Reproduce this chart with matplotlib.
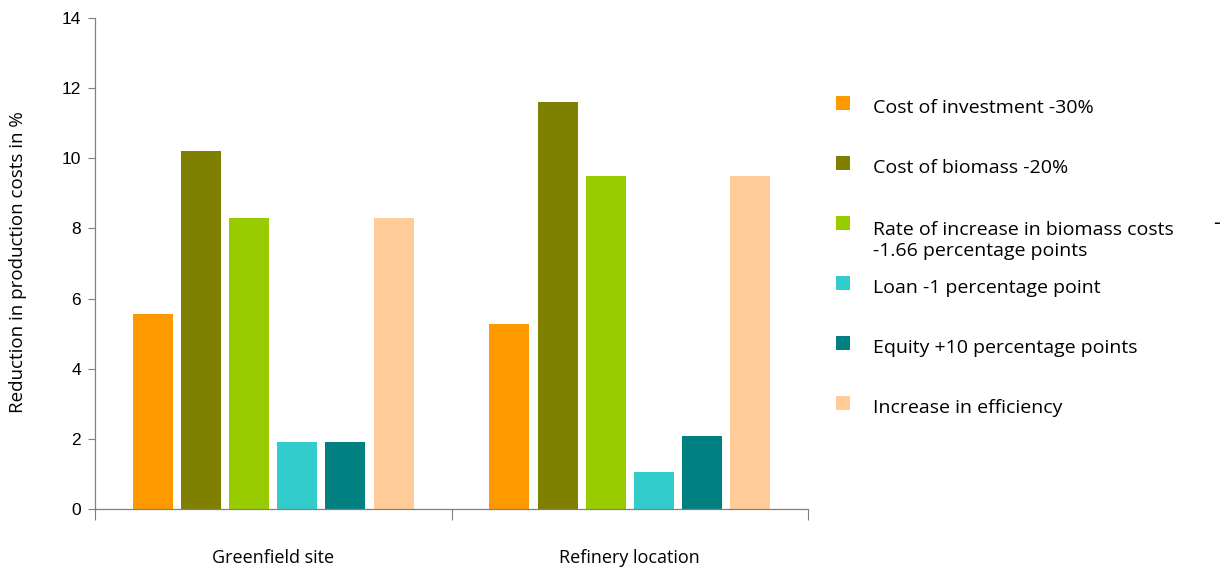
import matplotlib
matplotlib.use("Agg")
import matplotlib.pyplot as plt
import numpy as np
from matplotlib.patches import Rectangle

# ── Data ──────────────────────────────────────────────────────────────────
sites = ["Greenfield site", "Refinery location"]
measures = [
    "Cost of investment -30%",
    "Cost of biomass -20%",
    "Rate of increase in biomass costs\n-1.66 percentage points",
    "Loan -1 percentage point",
    "Equity +10 percentage points",
    "Increase in efficiency",
]
greenfield = [5.56, 10.2, 8.3, 1.91, 1.91, 8.3]
refinery = [5.28, 11.6, 9.5, 1.06, 2.08, 9.5]
colors = ["#FF9900", "#808000", "#99CC00", "#33CCCC", "#008080", "#FFCC99"]

TEXT_FONT = ["Open Sans", "DejaVu Sans"]
NUM_FONT = ["Liberation Sans", "DejaVu Sans"]
SPINE = "#808080"
W, H = 1220, 567

fig = plt.figure(figsize=(W / 100, H / 100), dpi=100)
ax = fig.add_axes([95 / W, 1 - 509 / H, 713 / W, 491 / H])

values = np.array([greenfield, refinery])
x = np.arange(len(sites))
step, width = 0.135, 0.112
for i, (label, color) in enumerate(zip(measures, colors)):
    ax.bar(x + (i - 2.5) * step, values[:, i], width=width, color=color,
           label=label, zorder=2)

ax.set_xlim(-0.5, 1.5)
ax.set_ylim(0, 14)
ax.set_yticks(np.arange(0, 15, 2))
ax.tick_params(axis="y", length=5, width=0.8, color=SPINE, pad=5,
               labelsize=12.5)
for t in ax.get_yticklabels():
    t.set_family(NUM_FONT)

# boundary ticks between categories, labels centred under each group
ax.set_xticks([-0.5, 0.5, 1.5])
ax.set_xticklabels([])
ax.tick_params(axis="x", which="major", length=8, width=0.8, color=SPINE)
ax.set_xticks(x, minor=True)
ax.set_xticklabels(sites, minor=True, fontsize=13, family=TEXT_FONT)
ax.tick_params(axis="x", which="minor", length=0, pad=29)

for side in ("top", "right"):
    ax.spines[side].set_visible(False)
for side in ("left", "bottom"):
    ax.spines[side].set_color(SPINE)
    ax.spines[side].set_linewidth(0.9)

fig.text(18 / W, 1 - 262 / H, "Reduction in production costs in %",
         rotation=90, ha="center", va="center", fontsize=13.5,
         family=TEXT_FONT)

# hand-laid legend: one 60 px slot per entry, handle aligned to first line;
# va="baseline" pins the last line, so push wrapped labels down by a line
LINE_PX = 23
for i, (label, color) in enumerate(zip(measures, colors)):
    yc = 103 + 60 * i
    extra = LINE_PX * label.count("\n")
    fig.patches.append(Rectangle((836 / W, 1 - (yc + 7) / H), 14 / W, 14 / H,
                                 transform=fig.transFigure,
                                 facecolor=color, edgecolor="none"))
    fig.text(873 / W, 1 - (yc + 10 + extra) / H, label, ha="left",
             va="baseline", fontsize=14, family=TEXT_FONT, linespacing=1.2)
fig.text(1216 / W, 1 - 223 / H, "-", ha="center", va="center",
         fontsize=15, family=TEXT_FONT)

fig.savefig("out.png", dpi=100)
